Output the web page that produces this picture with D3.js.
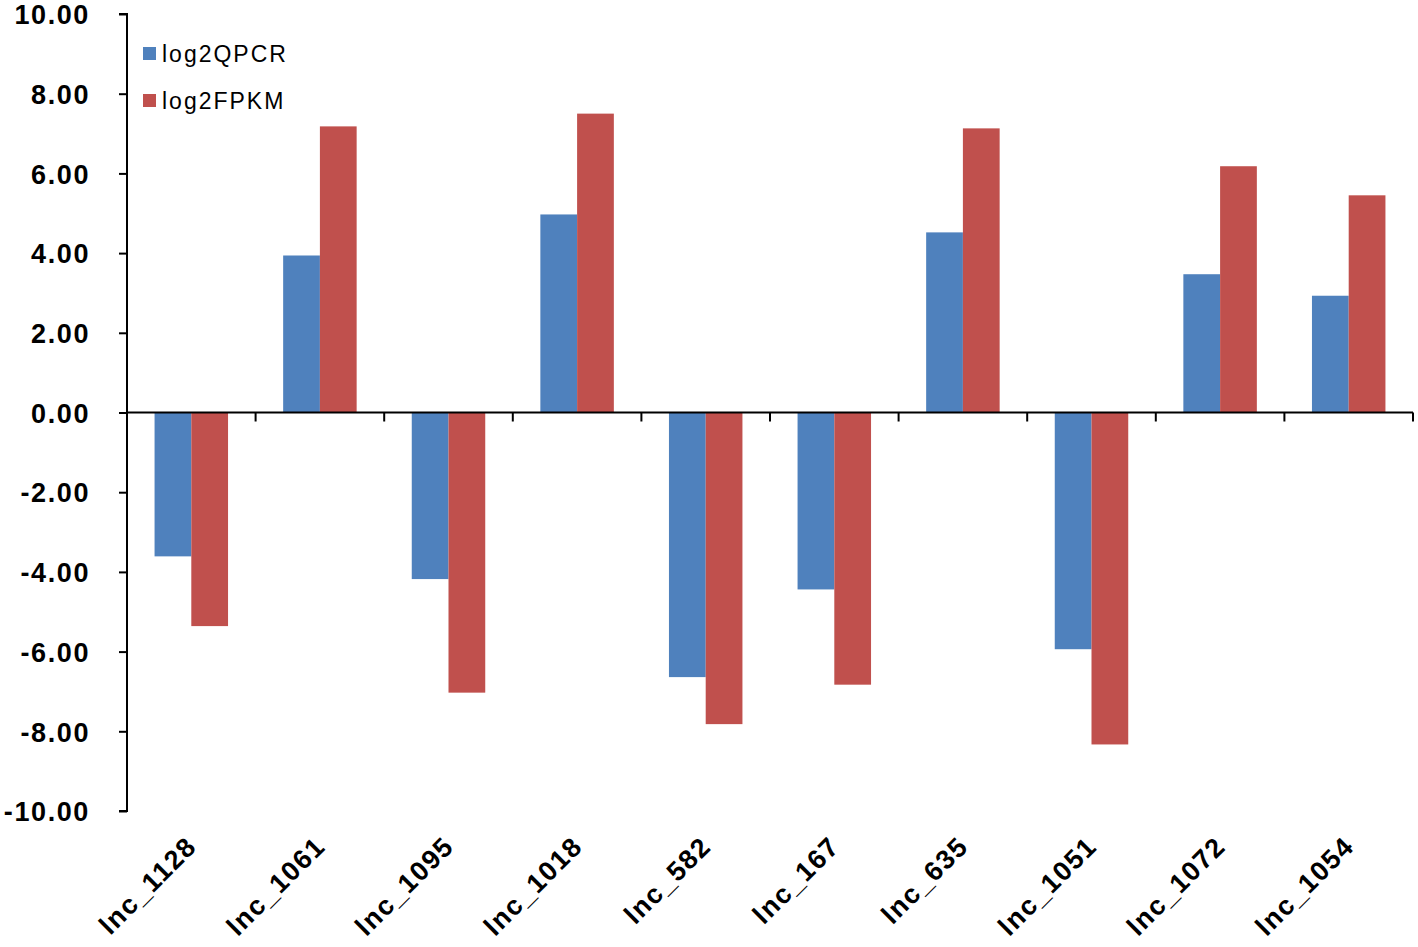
<!DOCTYPE html>
<html>
<head>
<meta charset="utf-8">
<script src="https://cdn.jsdelivr.net/npm/d3@7"></script>
<style>
  html, body { margin: 0; padding: 0; background: #fff; }
  svg { display: block; }
</style>
</head>
<body>
<svg id="chart" width="1418" height="947"></svg>
<script>
const categories = ["lnc_1128", "lnc_1061", "lnc_1095", "lnc_1018", "lnc_582", "lnc_167", "lnc_635", "lnc_1051", "lnc_1072", "lnc_1054"];
const seriesNames = ["log2QPCR", "log2FPKM"];
const log2QPCR = [-3.61, 3.94, -4.18, 4.97, -6.64, -4.44, 4.52, -5.94, 3.47, 2.93];
const log2FPKM = [-5.36, 7.18, -7.03, 7.50, -7.82, -6.83, 7.13, -8.33, 6.18, 5.45];
const yTicks = [10, 8, 6, 4, 2, 0, -2, -4, -6, -8, -10];
const colors = ["#4F81BD", "#C0504D"];

(function () {
const svg = d3.select("#chart");
const mLeft = 127, mRight = 1413, mTop = 14, mBottom = 811;

const y = d3.scaleLinear().domain([-10, 10]).range([mBottom, mTop]);
const x = d3.scaleBand().domain(categories).range([mLeft, mRight]).paddingInner(0).paddingOuter(0);
const step = x.bandwidth();
const barW = step / 3.5; // Excel gap width 150%
const xc = d => x(d) + step / 2;

const data = categories.map((c, i) => ({ cat: c, vals: [log2QPCR[i], log2FPKM[i]] }));

// bars
const groups = svg.append("g").selectAll("g").data(data).join("g");
groups.selectAll("rect")
  .data(d => d.vals.map((v, j) => ({ cat: d.cat, v, j })))
  .join("rect")
  .attr("x", d => xc(d.cat) - barW + d.j * barW)
  .attr("width", barW)
  .attr("y", d => Math.min(y(d.v), y(0)))
  .attr("height", d => Math.abs(y(d.v) - y(0)))
  .attr("fill", d => colors[d.j]);

const font = "'Liberation Sans', Arial, sans-serif";

// y axis
const yAxis = d3.axisLeft(y).tickValues(yTicks).tickSize(8).tickFormat(d => d.toFixed(2));
const gy = svg.append("g").attr("transform", `translate(${mLeft},0)`).call(yAxis);
gy.select(".domain").attr("stroke", "#000").attr("stroke-width", 2).attr("fill", "none")
  .attr("d", `M-8,${mTop}H0V${mBottom}H-8`);
gy.selectAll(".tick line").attr("stroke", "#000").attr("stroke-width", 2);
gy.selectAll(".tick text")
  .attr("x", -37)
  .attr("dy", "0.36em")
  .attr("font-family", font)
  .attr("font-weight", "bold")
  .attr("font-size", 27)
  .attr("letter-spacing", "1.6px")
  .attr("fill", "#000");

// x axis at zero
const bounds = categories.map(c => x(c) + step);
const gx = svg.append("g");
gx.append("line").attr("x1", mLeft).attr("x2", mRight).attr("y1", y(0)).attr("y2", y(0))
  .attr("stroke", "#000").attr("stroke-width", 2);
gx.selectAll("line.t").data(bounds).join("line").attr("class", "t")
  .attr("x1", d => d).attr("x2", d => d)
  .attr("y1", y(0)).attr("y2", y(0) + 9)
  .attr("stroke", "#000").attr("stroke-width", 2);

// category labels
svg.append("g").selectAll("text").data(categories).join("text")
  .attr("transform", d => `translate(${xc(d) + 7},848) rotate(-45)`)
  .attr("text-anchor", "end")
  .attr("font-family", font)
  .attr("font-weight", "bold")
  .attr("font-size", 27)
  .attr("letter-spacing", "1.5px")
  .attr("fill", "#000")
  .text(d => d);

// legend
const leg = svg.append("g").selectAll("g").data(seriesNames).join("g")
  .attr("transform", (d, i) => `translate(143,${47 + i * 47})`);
leg.append("rect").attr("width", 13).attr("height", 13).attr("fill", (d, i) => colors[i]);
leg.append("text").attr("x", 19).attr("y", 15)
  .attr("font-family", font)
  .attr("font-size", 23)
  .attr("letter-spacing", "2px")
  .attr("fill", "#000")
  .text(d => d);
})();
</script>
</body>
</html>
